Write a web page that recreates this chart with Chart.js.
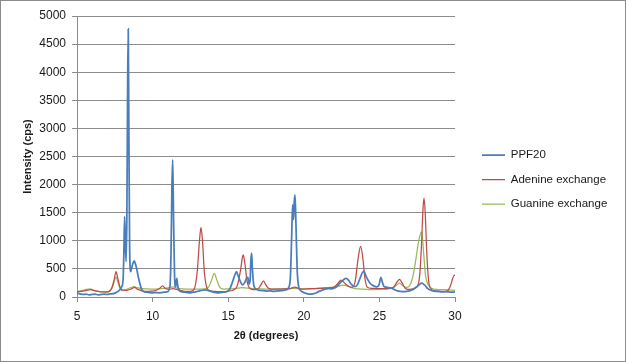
<!DOCTYPE html>
<html>
<head>
<meta charset="utf-8">
<script src="https://cdn.jsdelivr.net/npm/chart.js@4/dist/chart.umd.min.js"></script>
<style>
html,body{margin:0;padding:0;background:#fff;}
canvas{display:block;}
</style>
</head>
<body>
<canvas id="c" width="626" height="362"></canvas>
<script>
// ---- data (2θ in degrees, intensity in cps) ----
const seriesNames = ["PPF20", "Adenine exchange", "Guanine exchange"];
const xTicks = [5, 10, 15, 20, 25, 30];
const yTicks = [0, 500, 1000, 1500, 2000, 2500, 3000, 3500, 4000, 4500, 5000];

const ppf20 = [[5.0,70],[5.2,55],[5.4,45],[5.6,50],[5.8,40],[6.0,45],[6.2,50],[6.4,40],[6.6,45],[6.8,50],[7.0,45],[7.2,55],[7.4,60],[7.6,80],[7.8,120],[7.95,180],[8.05,320],[8.1,800],[8.15,1430],[8.2,900],[8.25,630],[8.3,1500],[8.35,3800],[8.39,4770],[8.43,3000],[8.48,900],[8.55,450],[8.62,520],[8.7,600],[8.79,645],[8.86,590],[8.95,500],[9.05,360],[9.15,250],[9.28,130],[9.4,100],[9.6,85],[9.8,80],[10.0,75],[10.2,80],[10.4,75],[10.6,80],[10.8,85],[11.0,95],[11.15,200],[11.22,800],[11.28,2000],[11.33,2440],[11.38,1500],[11.45,400],[11.52,180],[11.6,330],[11.66,200],[11.75,120],[11.9,95],[12.1,85],[12.3,80],[12.5,75],[12.7,85],[12.9,95],[13.1,110],[13.3,120],[13.5,125],[13.7,115],[13.9,95],[14.1,80],[14.3,75],[14.5,80],[14.7,85],[14.9,95],[15.1,140],[15.3,280],[15.45,400],[15.55,450],[15.65,380],[15.8,280],[15.95,215],[16.1,260],[16.22,340],[16.3,350],[16.38,230],[16.45,300],[16.5,650],[16.55,780],[16.6,500],[16.7,200],[16.85,140],[17.0,120],[17.2,115],[17.4,110],[17.6,105],[17.8,110],[18.0,100],[18.2,105],[18.4,110],[18.6,115],[18.8,125],[18.95,150],[19.1,300],[19.2,1100],[19.26,1640],[19.32,1380],[19.37,1700],[19.42,1815],[19.48,1300],[19.56,500],[19.65,200],[19.8,110],[20.0,80],[20.2,60],[20.4,50],[20.6,55],[20.8,70],[21.0,100],[21.2,120],[21.4,140],[21.6,150],[21.8,145],[22.0,155],[22.2,190],[22.4,250],[22.6,300],[22.8,330],[22.95,300],[23.1,240],[23.25,200],[23.4,185],[23.55,220],[23.7,320],[23.85,420],[23.98,460],[24.1,380],[24.25,300],[24.4,240],[24.55,210],[24.7,190],[24.85,180],[24.98,220],[25.1,350],[25.2,260],[25.3,190],[25.45,175],[25.6,165],[25.8,155],[26.0,130],[26.2,110],[26.4,100],[26.6,95],[26.8,100],[27.0,110],[27.2,130],[27.4,170],[27.6,210],[27.8,245],[28.0,210],[28.2,150],[28.4,120],[28.6,105],[28.8,100],[29.0,95],[29.2,90],[29.4,95],[29.6,90],[29.8,85],[30.0,90]];

const adenine = [[5.0,95],[5.3,100],[5.6,115],[5.9,130],[6.2,110],[6.5,95],[6.8,90],[7.1,100],[7.3,160],[7.45,300],[7.58,450],[7.7,330],[7.85,170],[8.0,125],[8.3,120],[8.6,145],[8.8,170],[9.0,140],[9.3,110],[9.6,100],[9.9,105],[10.2,115],[10.45,150],[10.67,196],[10.85,150],[11.1,135],[11.35,150],[11.6,135],[11.9,115],[12.2,100],[12.5,100],[12.75,140],[12.95,450],[13.1,1000],[13.2,1240],[13.3,1000],[13.42,450],[13.6,160],[13.8,110],[14.1,100],[14.4,95],[14.7,95],[15.0,105],[15.3,120],[15.6,200],[15.8,450],[15.95,720],[16.0,750],[16.1,600],[16.25,280],[16.45,150],[16.7,130],[16.95,140],[17.15,210],[17.33,285],[17.5,210],[17.7,150],[18.0,140],[18.4,140],[18.8,145],[19.1,150],[19.4,175],[19.7,150],[20.0,140],[20.4,150],[20.8,150],[21.2,155],[21.6,160],[22.0,175],[22.25,240],[22.46,300],[22.65,260],[22.9,200],[23.17,172],[23.4,280],[23.6,700],[23.76,900],[23.9,700],[24.05,320],[24.2,175],[24.5,155],[24.8,150],[25.2,150],[25.6,155],[25.95,180],[26.15,260],[26.34,315],[26.5,250],[26.7,160],[26.9,135],[27.2,145],[27.45,170],[27.65,350],[27.78,900],[27.88,1550],[27.95,1760],[28.03,1500],[28.13,800],[28.25,300],[28.4,150],[28.6,115],[28.9,105],[29.2,100],[29.5,110],[29.7,200],[29.85,330],[29.95,390],[30.0,380]];

const guanine = [[5.0,100],[5.3,115],[5.6,135],[5.86,145],[6.1,120],[6.4,100],[6.7,90],[7.0,85],[7.2,110],[7.4,220],[7.58,355],[7.72,250],[7.85,150],[7.96,112],[8.2,125],[8.5,160],[8.79,185],[9.0,165],[9.3,150],[9.6,145],[10.0,140],[10.4,145],[10.8,155],[11.1,165],[11.35,180],[11.6,160],[12.0,145],[12.5,140],[13.0,140],[13.4,145],[13.7,175],[13.9,300],[14.08,420],[14.25,300],[14.45,170],[14.7,140],[15.1,145],[15.5,150],[15.9,165],[16.3,160],[16.7,150],[17.1,145],[17.5,140],[18.0,140],[18.5,145],[19.0,150],[19.4,155],[19.8,145],[20.2,145],[20.6,150],[21.0,160],[21.4,165],[21.8,170],[22.2,185],[22.6,210],[22.9,195],[23.2,160],[23.6,145],[24.0,140],[24.4,130],[24.8,135],[25.2,140],[25.6,145],[25.95,170],[26.15,215],[26.34,245],[26.55,200],[26.8,170],[27.0,200],[27.2,350],[27.4,650],[27.6,1000],[27.8,1160],[27.92,800],[28.05,380],[28.24,213],[28.5,150],[28.8,135],[29.2,130],[29.6,125],[30.0,120]];

// ---- styling ----
const GRID = '#8c8c8c';
const TXT = '#1a1a1a';
const FONT = '"Liberation Sans", Arial, sans-serif';

const toPts = arr => arr.map(p => ({x: p[0], y: p[1]}));

const framePlugin = {
  id: 'frame',
  beforeLayout(chart) {
    const lg = chart.legend;
    if (lg && !lg.__patched) {
      const f = lg.fit;
      lg.fit = function () { f.call(this); this.width = 171; };
      lg.__patched = true;
    }
  },
  afterLayout(chart) {
    const lg = chart.legend;
    if (lg) {
      lg.left = 469; lg.right = 626;
      lg.top = 136.25; lg.bottom = 300;
    }
  },
  afterDraw(chart) {
    const c = chart.ctx;
    c.save();
    c.strokeStyle = '#8c8c8c';
    c.lineWidth = 1;
    c.strokeRect(0.5, 0.5, chart.width - 1, chart.height - 1);
    c.restore();
  }
};

new Chart(document.getElementById('c'), {
  type: 'line',
  data: {
    datasets: [
      {label: seriesNames[0], data: toPts(ppf20), borderColor: '#4A7EBB', backgroundColor: '#4A7EBB', borderWidth: 1.75},
      {label: seriesNames[1], data: toPts(adenine), borderColor: '#BE4B48', backgroundColor: '#BE4B48', borderWidth: 1.25},
      {label: seriesNames[2], data: toPts(guanine), borderColor: '#98B954', backgroundColor: '#98B954', borderWidth: 1.25}
    ]
  },
  options: {
    responsive: false,
    animation: false,
    devicePixelRatio: 1,
    elements: {
      point: {radius: 0, hoverRadius: 0},
      line: {cubicInterpolationMode: 'monotone', fill: false}
    },
    layout: {padding: {left: 5, right: 0, top: 16, bottom: 5}},
    plugins: {
      tooltip: {enabled: false},
      legend: {
        position: 'right',
        align: 'start',
        labels: {
          usePointStyle: true,
          pointStyle: 'line',
          pointStyleWidth: 23,
          padding: 13,
          color: TXT,
          font: {family: FONT, size: 11.5}
        }
      }
    },
    scales: {
      x: {
        type: 'linear',
        min: 5, max: 30,
        afterBuildTicks: s => { s.ticks = xTicks.map(v => ({value: v})); },
        afterFit: s => { s.height = 60; },
        grid: {drawOnChartArea: false, drawTicks: true, tickLength: 5, color: GRID},
        border: {display: true, color: GRID, width: 1},
        ticks: {color: TXT, padding: 7, maxRotation: 0, autoSkip: false, font: {family: FONT, size: 12}, callback: v => String(v)},
        title: {display: true, text: '2θ (degrees)', color: TXT, font: {family: FONT, size: 11, weight: 'bold'}, padding: {top: 0, bottom: 14.4}}
      },
      y: {
        type: 'linear',
        min: 0, max: 5000,
        afterBuildTicks: s => { s.ticks = yTicks.map(v => ({value: v})); },
        afterFit: s => { s.width = 72; },
        grid: {drawOnChartArea: true, drawTicks: true, tickLength: 5, color: GRID},
        border: {display: true, color: GRID, width: 1},
        ticks: {color: TXT, padding: 6, autoSkip: false, font: {family: FONT, size: 12}, callback: v => String(v)},
        title: {display: true, text: 'Intensity (cps)', color: TXT, font: {family: FONT, size: 11, weight: 'bold'}, padding: {top: 16.4, bottom: 0}}
      }
    }
  },
  plugins: [framePlugin]
});
</script>
</body>
</html>
